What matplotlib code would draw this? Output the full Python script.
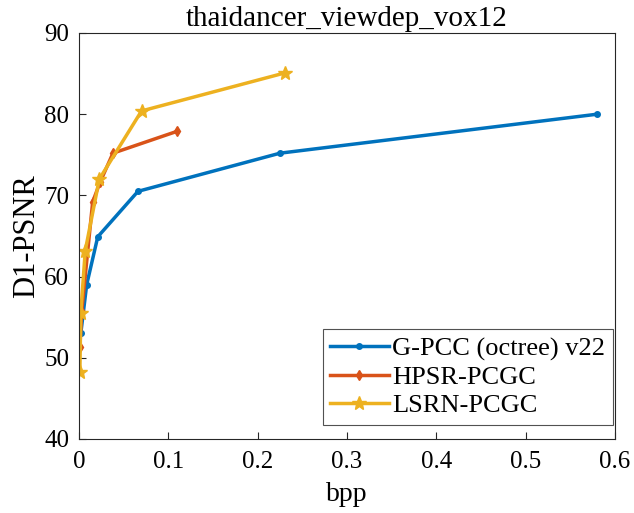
import matplotlib
matplotlib.use("Agg")
from matplotlib import pyplot as plt

plt.rcParams['font.family'] = ['Liberation Serif', 'DejaVu Serif']

gpcc_bpp = [0.002, 0.0086, 0.021, 0.066, 0.225, 0.58]
gpcc_psnr = [53.0, 59.0, 64.9, 70.5, 75.2, 80.0]

hpsr_bpp = [0.001, 0.003, 0.0153, 0.0235, 0.038, 0.110]
hpsr_psnr = [51.3, 55.7, 69.2, 71.6, 75.2, 77.9]

lsrn_bpp = [0.001, 0.002, 0.007, 0.0227, 0.070, 0.231]
lsrn_psnr = [48.3, 55.5, 63.2, 72.0, 80.4, 85.1]

xticks = [0, 0.1, 0.2, 0.3, 0.4, 0.5, 0.6]
yticks = [40, 50, 60, 70, 80, 90]

fig = plt.figure(figsize=(6.34, 5.13), dpi=100)
ax = fig.add_axes([79/634, 1 - 439/513, (615-79)/634, (439-33)/513])

ax.plot(gpcc_bpp, gpcc_psnr, color='#0072BD', lw=2.5, marker='o', ms=4, label='G-PCC (octree) v22')
ax.plot(hpsr_bpp, hpsr_psnr, color='#D95319', lw=2.5, marker='d', ms=5, label='HPSR-PCGC')
ax.plot(lsrn_bpp, lsrn_psnr, color='#EDB120', lw=2.5, marker='*', ms=10, label='LSRN-PCGC')

ax.set_xlim(0, 0.6)
ax.set_ylim(40, 90)
ax.set_xticks(xticks)
ax.set_xticklabels(['0', '0.1', '0.2', '0.3', '0.4', '0.5', '0.6'])
ax.set_yticks(yticks)
ax.tick_params(direction='in', labelsize=18, top=False, right=False, length=5, color='#262626')
ax.tick_params(axis='x', pad=9)
ax.tick_params(axis='y', pad=7)
for s in ax.spines.values():
    s.set_color('#262626')
    s.set_linewidth(0.8)

ax.set_xlabel('bpp', fontsize=20, labelpad=6)
ax.set_ylabel('D1-PSNR', fontsize=22, labelpad=2)
ax.set_title('thaidancer_viewdep_vox12', fontsize=21, pad=5)

leg = ax.legend(loc='lower right', fontsize=19, frameon=True, fancybox=False,
                edgecolor='#262626', handlelength=2.2, borderpad=0.3, labelspacing=0.17,
                handletextpad=0.15, borderaxespad=0, bbox_to_anchor=(0.997, 0.035))
leg.get_frame().set_linewidth(0.8)

fig.savefig('out.png', dpi=100)
